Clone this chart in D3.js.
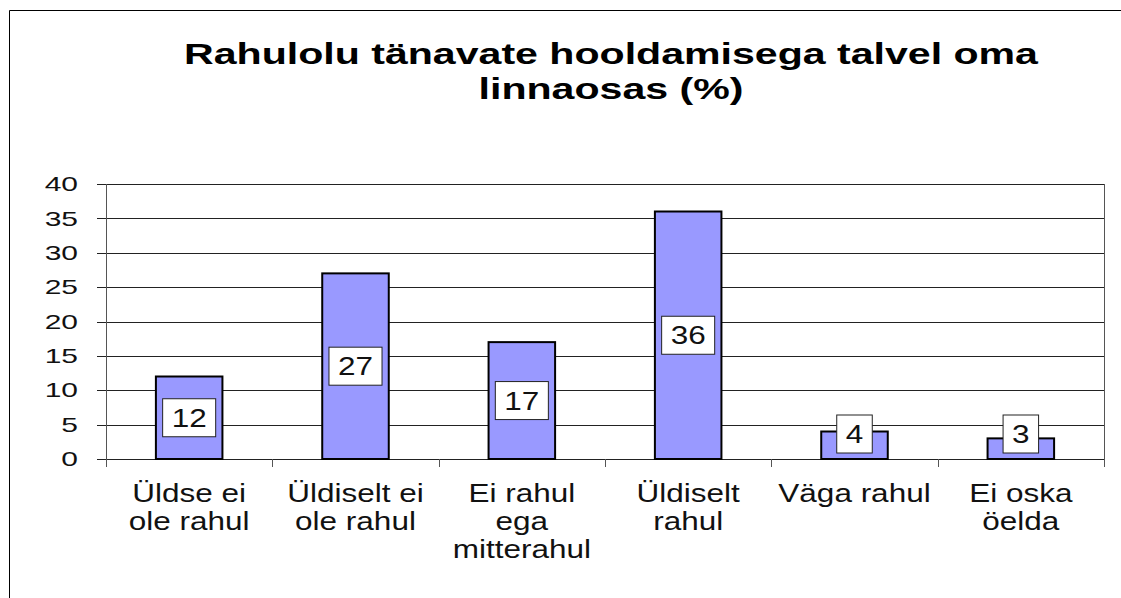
<!DOCTYPE html>
<html>
<head>
<meta charset="utf-8">
<script src="https://cdn.jsdelivr.net/npm/d3@7"></script>
<style>
  body { margin: 0; background: #fff; }
  svg { display: block; font-family: "Liberation Sans", Arial, sans-serif; }
</style>
</head>
<body>
<svg width="1121" height="598"></svg>
<script>
var titleLines = ["Rahulolu tänavate hooldamisega talvel oma", "linnaosas (%)"]
var categories = [
    ["Üldse ei", "ole rahul"],
    ["Üldiselt ei", "ole rahul"],
    ["Ei rahul", "ega", "mitterahul"],
    ["Üldiselt", "rahul"],
    ["Väga rahul"],
    ["Ei oska", "öelda"]
]
var values = [12, 27, 17, 36, 4, 3]
var yTicks = [0, 5, 10, 15, 20, 25, 30, 35, 40]

var svg = d3.select("svg")
var plotLeft = 106, plotRight = 1104, plotTop = 184, plotBottom = 459

// outer chart frame (only left and top edges show)
svg.append("path")
    .attr("d", "M9.5,598V10.5H1121")
    .attr("fill", "none")
    .attr("stroke", "#000")
    .attr("stroke-width", 1)

// the source picture is stretched sideways, so texts get a horizontal scale
svg.append("g")
    .attr("font-weight", "bold")
    .attr("font-size", 30)
    .attr("text-anchor", "middle")
    .selectAll("text")
    .data(titleLines)
    .join("text")
    .attr("transform", (d, i) => `translate(611,${64 + i * 35}) scale(1.37,1)`)
    .text(d => d)

var x = d3.scaleBand()
    .domain(d3.range(values.length))
    .range([plotLeft, plotRight])
    .paddingInner(0.6)
    .paddingOuter(0.3)
var band = d3.scaleBand().domain(d3.range(values.length)).range([plotLeft, plotRight])
var y = d3.scaleLinear().domain([0, 40]).range([plotBottom, plotTop])

// gridlines
svg.append("g")
    .selectAll("line")
    .data(yTicks)
    .join("line")
    .attr("x1", plotLeft - 9)
    .attr("x2", plotRight)
    .attr("y1", d => Math.round(y(d)) + 0.5)
    .attr("y2", d => Math.round(y(d)) + 0.5)
    .attr("stroke", "#222")
    .attr("stroke-width", 1)

// left axis and right edge of plot
svg.append("g")
    .selectAll("line")
    .data([plotLeft, plotRight])
    .join("line")
    .attr("x1", d => d + 0.5).attr("x2", d => d + 0.5)
    .attr("y1", plotTop).attr("y2", plotBottom + 8)
    .attr("stroke", "#555")

// category tick marks
svg.append("g")
    .selectAll("line")
    .data(d3.range(1, values.length))
    .join("line")
    .attr("x1", d => Math.round(band(d)) + 0.5)
    .attr("x2", d => Math.round(band(d)) + 0.5)
    .attr("y1", plotBottom)
    .attr("y2", plotBottom + 8)
    .attr("stroke", "#555")

svg.append("g")
    .attr("font-size", 20)
    .attr("text-anchor", "end")
    .selectAll("text")
    .data(yTicks)
    .join("text")
    .attr("transform", d => `translate(78,${y(d)}) scale(1.5,1)`)
    .attr("dy", "0.36em")
    .attr("fill", "#111")
    .text(d => d)

svg.append("g")
    .selectAll("rect")
    .data(values)
    .join("rect")
    .attr("x", (d, i) => x(i))
    .attr("y", d => y(d))
    .attr("width", x.bandwidth())
    .attr("height", d => plotBottom - y(d))
    .attr("fill", "#9999ff")
    .attr("stroke", "#000")
    .attr("stroke-width", 2)

// value labels in white boxes
var lab = svg.append("g")
    .attr("font-size", 25)
    .selectAll("g")
    .data(values)
    .join("g")
    .attr("transform", (d, i) => {
        var cy = Math.min(y(d / 2), plotBottom - 25)
        return `translate(${x(i) + x.bandwidth() / 2},${cy})`
    })
lab.append("text")
    .attr("text-anchor", "middle")
    .attr("dy", "0.36em")
    .attr("transform", "scale(1.26,1)")
    .attr("fill", "#111")
    .text(d => d)
lab.each(function() {
    var g = d3.select(this)
    var w = g.select("text").node().getComputedTextLength() * 1.26 + 18
    g.insert("rect", "text")
        .attr("x", -w / 2)
        .attr("y", -19)
        .attr("width", w)
        .attr("height", 38)
        .attr("fill", "#fff")
        .attr("stroke", "#222")
        .attr("stroke-width", 1)
})

svg.append("g")
    .attr("font-size", 25)
    .attr("text-anchor", "middle")
    .selectAll("g")
    .data(categories)
    .join("g")
    .each(function(d, i) {
        d3.select(this).selectAll("text")
            .data(d)
            .join("text")
            .attr("transform", (t, j) => `translate(${band(i) + band.bandwidth() / 2},${502 + j * 28}) scale(1.26,1)`)
            .attr("fill", "#111")
            .text(t => t)
    })
</script>
</body>
</html>
